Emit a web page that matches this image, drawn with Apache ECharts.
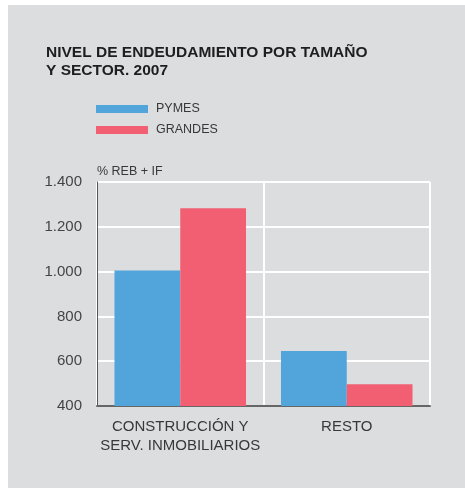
<!DOCTYPE html>
<html>
<head>
<meta charset="utf-8">
<script src="https://cdn.jsdelivr.net/npm/echarts@6/dist/echarts.min.js"></script>
<style>
  body { margin: 0; background: #fff; }
  .wrap { position: relative; width: 465px; height: 488px; }
  .panel { position: absolute; left: 8px; top: 5px; right: 0; bottom: 0; background: #dcdddf; }
  #myChart { position: absolute; left: 0; top: 0; width: 465px; height: 488px; }
</style>
</head>
<body>
<div class="wrap">
  <div class="panel"></div>
  <div id="myChart"></div>
</div>
<script>
// datos
const categories = ['CONSTRUCCIÓN Y\nSERV. INMOBILIARIOS', 'RESTO']
const pymes = [1005, 645]
const grandes = [1283, 497]
const yTicks = [400, 600, 800, 1000, 1200, 1400]

const font = 'Liberation Sans, Arial, Helvetica, sans-serif'

function fmt (v) {
  return String(v).replace(/\B(?=(\d{3})+(?!\d))/g, '.')
}

let myChart = echarts.init(document.getElementById('myChart'))
myChart.setOption({
  backgroundColor: 'transparent',
  textStyle: { fontFamily: font },
  title: {
    text: 'NIVEL DE ENDEUDAMIENTO POR TAMAÑO\nY SECTOR. 2007',
    left: 46,
    top: 44,
    padding: 0,
    textStyle: { fontSize: 15.5, fontWeight: 'bold', color: '#1e1e1e', lineHeight: 18, fontFamily: font }
  },
  legend: {
    orient: 'vertical',
    left: 96,
    top: 102,
    padding: 0,
    itemWidth: 52,
    itemHeight: 8,
    itemGap: 7,
    icon: 'rect',
    textStyle: { fontSize: 12.5, color: '#383838', lineHeight: 14, padding: [0, 0, 0, 3] },
    data: ['PYMES', 'GRANDES']
  },
  grid: { left: 97, top: 182, width: 333, height: 224 },
  xAxis: {
    type: 'category',
    data: categories,
    axisTick: { show: false },
    axisLine: { lineStyle: { color: '#666', width: 2 } },
    axisLabel: { interval: 0, fontSize: 15, color: '#383838', lineHeight: 19, margin: 11 },
    splitLine: { show: true, interval: 0, lineStyle: { color: '#fff', width: 2 } }
  },
  yAxis: {
    type: 'value',
    min: yTicks[0],
    max: yTicks[yTicks.length - 1],
    interval: 200,
    name: '% REB + IF',
    nameLocation: 'end',
    nameGap: 10,
    nameTextStyle: { align: 'left', verticalAlign: 'middle', fontSize: 12.5, color: '#383838' },
    axisLine: { show: true, lineStyle: { color: '#555', width: 1 } },
    axisTick: { show: false },
    axisLabel: { fontSize: 15, color: '#444', margin: 15, formatter: fmt },
    splitLine: { lineStyle: { color: '#fff', width: 2 } }
  },
  series: [
    {
      name: 'PYMES',
      type: 'bar',
      barGap: 0,
      barCategoryGap: '21%',
      itemStyle: { color: '#51a5da' },
      data: pymes
    },
    {
      name: 'GRANDES',
      type: 'bar',
      barGap: 0,
      barCategoryGap: '21%',
      itemStyle: { color: '#f25f72' },
      data: grandes
    }
  ]
})
</script>
</body>
</html>
